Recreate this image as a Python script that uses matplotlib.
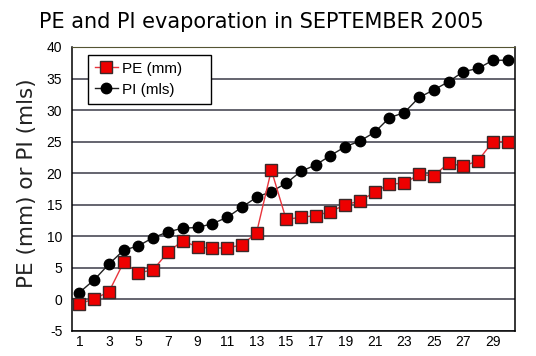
import matplotlib
matplotlib.use("Agg")
import matplotlib.pyplot as plt

days = list(range(1, 31))
pe_mm = [-0.7, 0.1, 1.2, 5.9, 4.2, 4.7, 7.5, 9.3, 8.3, 8.1, 8.2, 8.6, 10.6, 20.5,
         12.7, 13.0, 13.3, 13.9, 15.0, 15.6, 17.0, 18.3, 18.4, 19.8, 19.6, 21.6,
         21.1, 22.0, 25.0, 25.0]
pi_mls = [1.1, 3.1, 5.6, 7.8, 8.5, 9.8, 10.7, 11.3, 11.4, 12.0, 13.0, 14.6, 16.2,
          17.1, 18.4, 20.3, 21.3, 22.8, 24.2, 25.1, 26.5, 28.8, 29.6, 32.0, 33.2,
          34.5, 36.1, 36.6, 37.9, 37.9]
xtick_labels = [str(d) for d in range(1, 30, 2)]
ytick_values = list(range(-5, 41, 5))

fig = plt.figure(figsize=(5.36, 3.56), dpi=100)
ax = fig.add_axes([72 / 536, 25 / 356, 443 / 536, 284 / 356])

for y in ytick_values:
    ax.axhline(y, color="#3a3a48", lw=1.1, zorder=1)

ax.plot(days, pe_mm, color="#e8343c", lw=1, marker="s", markersize=8,
        markerfacecolor="#ee0000", markeredgecolor="#3a2a2a", markeredgewidth=1,
        label="PE (mm)     ", zorder=3)
ax.plot(days, pi_mls, color="#202020", lw=1, marker="o", markersize=7.5,
        markerfacecolor="black", markeredgecolor="black",
        label="PI (mls)", zorder=2)

ax.set_xlim(0.5, 30.5)
ax.set_ylim(-5, 40)
ax.set_xticks(range(1, 30, 2))
ax.set_xticklabels(xtick_labels, family="Liberation Sans", fontsize=10)
ax.set_yticks(ytick_values)
ax.set_yticklabels([str(v) for v in ytick_values], family="Liberation Sans", fontsize=10)
ax.tick_params(axis="y", length=0, pad=7)
ax.tick_params(axis="x", length=0, pad=3)
for side in ["left", "right", "bottom"]:
    ax.spines[side].set_color("black")
    ax.spines[side].set_linewidth(1.1)
ax.spines["top"].set_color("#555533")

leg = ax.legend(loc="upper left", bbox_to_anchor=(0.036, 0.972), borderaxespad=0,
                fancybox=False, framealpha=1, edgecolor="black",
                prop={"family": "Liberation Sans", "size": 11},
                handlelength=1.5, handletextpad=0.3, borderpad=0.45, labelspacing=0.45)
leg.get_frame().set_linewidth(1)

fig.text(261 / 536, 1 - 22 / 356, "PE and PI evaporation in SEPTEMBER 2005",
         ha="center", va="center", fontsize=15, family="DejaVu Sans")
fig.text(27 / 536, 1 - 183 / 356, "PE (mm) or PI (mls)", rotation=90,
         ha="center", va="center", fontsize=15.5, family="DejaVu Sans", color="#222222")

fig.savefig("out.png", dpi=100)
